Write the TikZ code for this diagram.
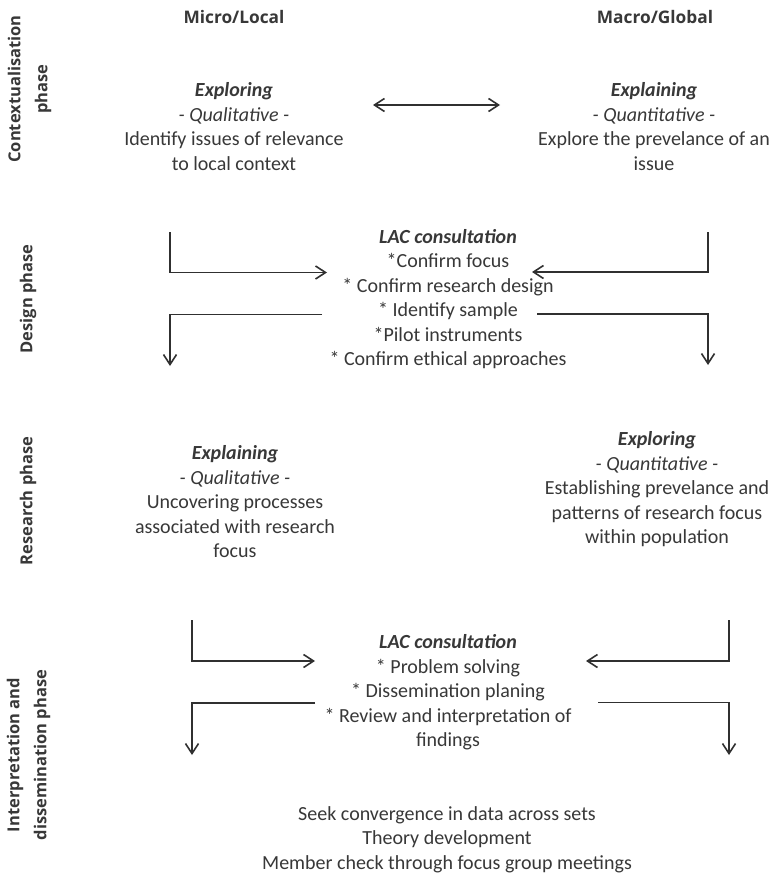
\documentclass[tikz,border=0pt]{standalone}
\usepackage{fontspec}
\setmainfont{Carlito}
\newfontfamily\labfont{Open Sans}
\usetikzlibrary{arrows.meta}
\definecolor{txt}{HTML}{383838}
\definecolor{ln}{HTML}{303030}
\tikzset{
  body/.style={align=center, text=txt, inner sep=0pt, font=\fontsize{20}{24.5}\selectfont},
  head/.style={text=txt, inner sep=0pt, font=\labfont\bfseries\fontsize{17.3}{20}\selectfont},
  phase/.style={rotate=90, align=center, text=txt, inner sep=0pt, font=\labfont\bfseries\fontsize{16.5}{27}\selectfont},
  arr/.style={draw=ln, line width=1.7pt, -{Straight Barb[length=10pt,width=13pt,line width=1.6pt]}},
  dbl/.style={draw=ln, line width=1.7pt, {Straight Barb[length=10pt,width=13pt,line width=1.6pt]}-{Straight Barb[length=10pt,width=13pt,line width=1.6pt]}}
}
\begin{document}
\begin{tikzpicture}[x=1pt,y=-1pt]
\useasboundingbox[fill=white] (0,0) rectangle (772,875);

% headers
\node[head] (hl) at (234,17) {Micro/Local};
\node[head] (hr) at (655,17) {Macro/Global};

% phase labels
\node[phase] (p1) at (29.5,89) {Contextualisation\\phase};
\node[phase] (p2) at (28,299) {Design phase};
\node[phase] (p3) at (28,501) {Research phase};
\node[phase] (p4) at (28.5,755) {Interpretation and\\dissemination phase};

% contextualisation
\node[body] (expL) at (234,126.5) {\textbf{\textit{Exploring}}\\\textit{- Qualitative -}\\Identify issues of relevance\\to local context};
\node[body] (explR) at (654,126.5) {\textbf{\textit{Explaining}}\\\textit{- Quantitative -}\\Explore the prevelance of an\\issue};
\coordinate (da) at (373,105);
\coordinate (db) at (500,105);
\draw[dbl] (da) -- (db);

% design phase
\node[body] (lac1) at (448,299) {\textbf{\textit{LAC consultation}}\\*Confirm focus\\* Confirm research design\\* Identify sample\\*Pilot instruments\\* Confirm ethical approaches};
\coordinate (d1s) at (170,232);
\coordinate (d1e) at (327,272.5);
\coordinate (d2s) at (708,232);
\coordinate (d2e) at (532,272);
\coordinate (d3s) at (322,314.5);
\coordinate (d3e) at (170,366);
\coordinate (d4s) at (537,314);
\coordinate (d4e) at (708,365);
\draw[arr] (d1s) |- (d1e);
\draw[arr] (d2s) |- (d2e);
\draw[arr] (d3s) -| (d3e);
\draw[arr] (d4s) -| (d4e);

% research phase
\node[body] (resL) at (235,502) {\textbf{\textit{Explaining}}\\\textit{- Qualitative -}\\Uncovering processes\\associated with research\\focus};
\node[body] (resR) at (657,489.5) {\textbf{\textit{Exploring}}\\\textit{- Quantitative -}\\Establishing prevelance and\\patterns of research focus\\within population};

% interpretation phase
\node[body] (lac2) at (448,692.5) {\textbf{\textit{LAC consultation}}\\* Problem solving\\* Dissemination planing\\* Review and interpretation of\\findings};
\coordinate (i1s) at (192,620);
\coordinate (i1e) at (315,661);
\coordinate (i2s) at (729,620);
\coordinate (i2e) at (586,661);
\coordinate (i3s) at (315,703);
\coordinate (i3e) at (192,755);
\coordinate (i4s) at (598,702.5);
\coordinate (i4e) at (729,755);
\draw[arr] (i1s) |- (i1e);
\draw[arr] (i2s) |- (i2e);
\draw[arr] (i3s) -| (i3e);
\draw[arr] (i4s) -| (i4e);

\node[body] (conv) at (447,839.5) {Seek convergence in data across sets\\Theory development\\Member check through focus group meetings};
\end{tikzpicture}
\end{document}
